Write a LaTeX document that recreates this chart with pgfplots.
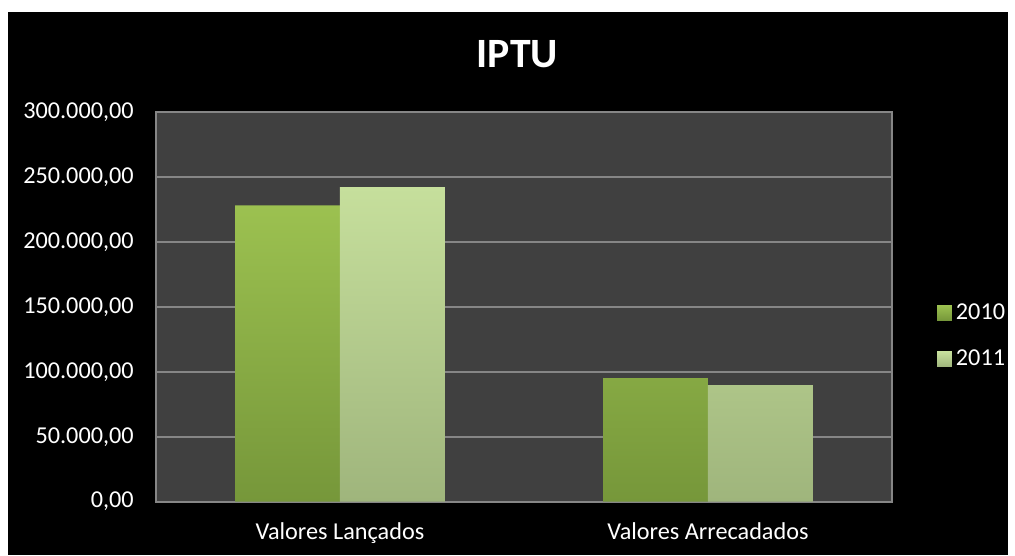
\documentclass[border=0pt]{standalone}
\usepackage{pgfplots}
\pgfplotsset{compat=1.18}
\usepackage{fontspec}
\setmainfont{Carlito}
\definecolor{plotbg}{HTML}{404040}
\definecolor{gridc}{HTML}{868686}
\definecolor{gAtop}{HTML}{9CC150}
\definecolor{gAbot}{HTML}{76973A}
\definecolor{gBtop}{HTML}{C6DF9C}
\definecolor{gBbot}{HTML}{9FB57C}
\begin{document}
\begin{tikzpicture}
\begin{axis}[
    set layers,
    clip=false,
    width=370.5pt,
    height=196pt,
    scale only axis,
    xmin=-0.5, xmax=1.5,
    ymin=0, ymax=300000,
    xtick={0,1},
    xticklabels={Valores Lançados,Valores Arrecadados},
    ytick={0,50000,...,300000},
    scaled y ticks=false,
    ymajorgrids,
    grid style={draw=gridc, line width=1pt},
    axis line style={draw=gridc, line width=1pt},
    major tick length=0pt,
    ybar=0pt,
    bar width=52.75pt,
    ticklabel style={font=\fontsize{12.2}{14}\selectfont, text=white},
    xticklabel style={anchor=base, yshift=-19pt},
    yticklabel style={anchor=east, inner sep=0pt, xshift=-11pt},
    y tick label style={
        /pgf/number format/fixed,
        /pgf/number format/fixed zerofill,
        /pgf/number format/precision=2,
        /pgf/number format/1000 sep={.},
        /pgf/number format/dec sep={,},
        /pgf/number format/assume math mode=true},
    legend style={at={(rel axis cs:1.0526,0.4247)}, anchor=west,
        draw=none, fill=none, text=white,
        font=\fontsize{12.2}{14}\selectfont, row sep=10pt},
    legend image code/.code={\draw[#1, draw=none] (0pt,-3.7pt) rectangle (7.5pt,3.8pt);},
]
\begin{pgfonlayer}{axis background}
  \fill[white] (rel axis cs:-0.2119,-0.1378) rectangle (rel axis cs:1.1579,1.2883);
  \fill[black] (rel axis cs:-0.2011,-0.1378) rectangle (rel axis cs:1.1579,1.2577);
  \fill[plotbg] (rel axis cs:0,0) rectangle (rel axis cs:1,1);
\end{pgfonlayer}
\addplot[draw=none, top color=gAtop, bottom color=gAbot] coordinates {(0,228300) (1,95100)};
\addplot[draw=none, top color=gBtop, bottom color=gBbot] coordinates {(0,242400) (1,89800)};
\legend{2010,2011}
\node[anchor=base, text=white, font=\bfseries\fontsize{21}{24}\selectfont]
  at (rel axis cs:0.491,1.1156) {IPTU};
\end{axis}
\end{tikzpicture}
\end{document}
